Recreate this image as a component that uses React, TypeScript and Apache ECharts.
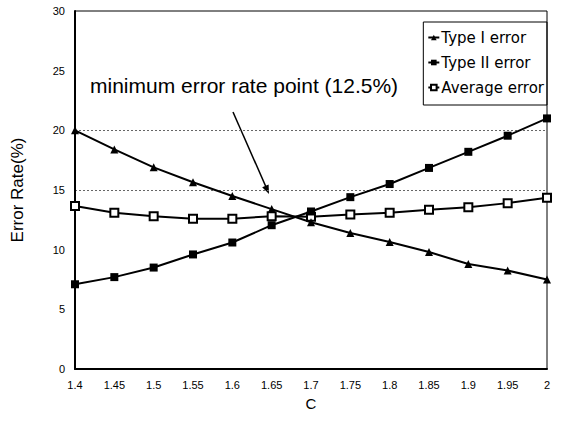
import React, { useEffect, useRef } from "react";
import * as echarts from "echarts";

const categories = ["1.4", "1.45", "1.5", "1.55", "1.6", "1.65", "1.7", "1.75", "1.8", "1.85", "1.9", "1.95", "2"];
const typeI = [20, 18.4, 16.9, 15.65, 14.5, 13.4, 12.3, 11.4, 10.65, 9.8, 8.8, 8.25, 7.5];
const typeII = [7.1, 7.7, 8.5, 9.6, 10.6, 12.05, 13.2, 14.4, 15.5, 16.85, 18.2, 19.55, 21.0];
const average = [13.65, 13.1, 12.8, 12.6, 12.6, 12.8, 12.75, 12.95, 13.1, 13.35, 13.55, 13.9, 14.35];
const annotation = "minimum error rate point (12.5%)";

const FONT = "'Liberation Sans', Arial, sans-serif";
const WIDE = "'DejaVu Sans', sans-serif";

export default function App() {
  const ref = useRef<HTMLDivElement>(null);
  useEffect(() => {
    if (!ref.current) return;
    const chart = echarts.init(ref.current, null, { renderer: "svg" });
    const lineStyle = { color: "#000", width: 2 };
    chart.setOption({
      animation: false,
      backgroundColor: "#fff",
      textStyle: { fontFamily: FONT, color: "#000" },
      grid: { left: 75, right: 14, top: 11, bottom: 52, show: true, borderColor: "#000", borderWidth: 1 },
      legend: {
        orient: "vertical",
        right: 14,
        top: 22,
        borderColor: "#000",
        borderWidth: 1,
        padding: [8, 3, 10, 4],
        itemGap: 10,
        itemWidth: 11,
        itemHeight: 7,
        textStyle: { fontFamily: WIDE, fontSize: 15, color: "#000", padding: [0, 0, 0, -3] },
        data: ["Type I error", "Type II error", "Average error"],
      },
      xAxis: {
        type: "category",
        data: categories,
        boundaryGap: false,
        name: "C",
        nameLocation: "middle",
        nameGap: 27,
        nameTextStyle: { fontFamily: FONT, fontSize: 15, color: "#000" },
        axisLine: { lineStyle: { color: "#000", width: 2 } },
        axisTick: { show: false },
        axisLabel: { fontFamily: FONT, fontSize: 11, color: "#000", margin: 10 },
        splitLine: { show: false },
      },
      yAxis: {
        type: "value",
        min: 0,
        max: 30,
        interval: 5,
        name: "Error Rate(%)",
        nameLocation: "middle",
        nameGap: 49,
        nameTextStyle: { fontFamily: FONT, fontSize: 17, color: "#000" },
        axisLine: { show: true, lineStyle: { color: "#000", width: 2 } },
        axisTick: { show: false },
        axisLabel: { fontFamily: FONT, fontSize: 11, color: "#000", margin: 10 },
        splitLine: {
          show: true,
          lineStyle: {
            type: [2, 2],
            width: 1,
            color: ["transparent", "transparent", "transparent", "#666", "#666", "transparent", "transparent"],
          },
        },
      },
      series: [
        {
          name: "Type I error",
          type: "line",
          data: typeI,
          symbol: "triangle",
          symbolSize: 8,
          lineStyle,
          itemStyle: { color: "#000" },
          z: 3,
        },
        {
          name: "Type II error",
          type: "line",
          data: typeII,
          symbol: "rect",
          symbolSize: 8,
          lineStyle,
          itemStyle: { color: "#000" },
          z: 3,
        },
        {
          name: "Average error",
          type: "line",
          data: average,
          symbol: "emptyRect",
          symbolSize: 8,
          lineStyle,
          itemStyle: { color: "#000", borderColor: "#000", borderWidth: 1 },
          z: 2,
        },
      ],
      graphic: [
        {
          type: "text",
          left: 90,
          top: 75,
          style: { text: annotation, fontFamily: FONT, fontSize: 21, fill: "#000" },
        },
        {
          type: "line",
          shape: { x1: 233, y1: 112, x2: 266, y2: 187 },
          style: { stroke: "#000", lineWidth: 1.5 },
        },
        {
          type: "polygon",
          shape: { points: [[269, 194], [262.2, 187.2], [268.6, 184.4]] },
          style: { fill: "#000" },
        },
      ],
    });
    return () => chart.dispose();
  }, []);
  return <div ref={ref} style={{ width: 561, height: 421, position: "absolute", left: 0, top: 0 }} />;
}
